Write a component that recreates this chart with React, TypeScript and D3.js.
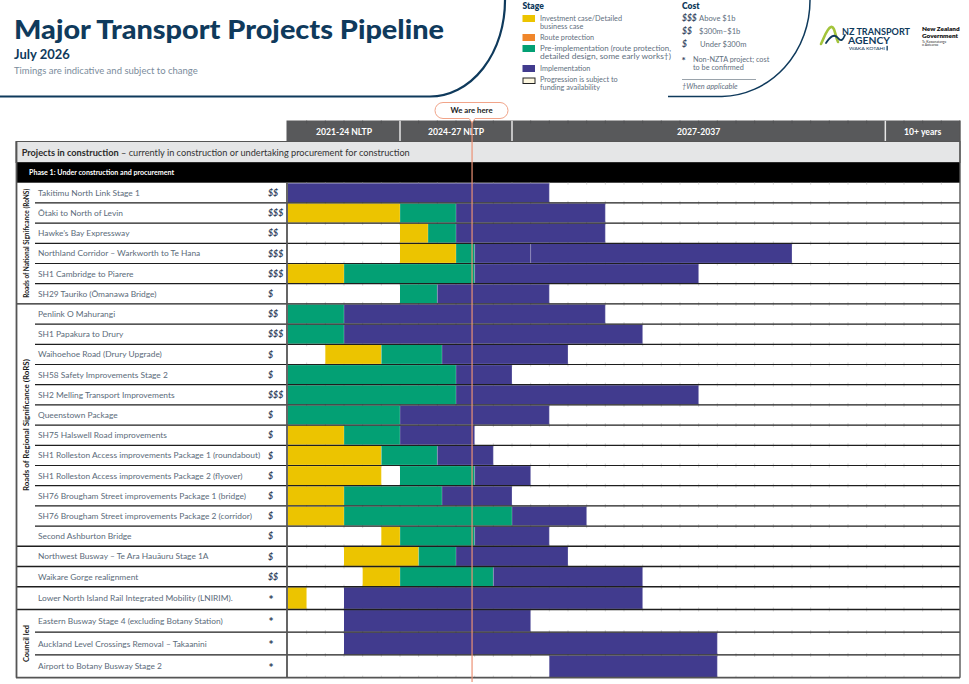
import React from 'react';
import * as d3 from 'd3';

// ---- Stage legend ----
const stageKeys = ['investment', 'route', 'preimpl', 'impl'];
const stageColors: Record<string, string> = {
  investment: '#ecc400',
  route: '#f0862a',
  preimpl: '#03a074',
  impl: '#413b8e',
};
const stageLegendLines = [
  ['Investment case/Detailed', 'business case'],
  ['Route protection'],
  ['Pre-implementation (route protection,', 'detailed design, some early works\u2020)'],
  ['Implementation'],
];
const fundingLegendLines = ['Progression is subject to', 'funding availability'];

// ---- Cost legend ----
const costSymbols = ['$$$', '$$', '$'];
const costLabels = ['Above $1b', '$300m\u2013$1b', 'Under $300m'];

// ---- Timeline ----
const periodLabels = ['2021-24 NLTP', '2024-27 NLTP', '2027-2037', '10+ years'];
const periodBounds = [2021.5, 2024.5, 2027.5, 2037.5, 2039.5];
const NOW = 2026.43;

// ---- Project groups ----
const groupLabels = ['Roads of National Significance (RoNS)', 'Roads of Regional Significance (RoRS)', '', '', '', 'Council led'];
const groupSizes = [6, 12, 1, 1, 1, 3];

const projectNames = [
  'Takitimu North Link Stage 1',
  '\u014Ctaki to North of Levin',
  "Hawke\u2019s Bay Expressway",
  'Northland Corridor \u2013 Warkworth to Te Hana',
  'SH1 Cambridge to Piarere',
  'SH29 Tauriko (\u014Cmanawa Bridge)',
  'Penlink O Mahurangi',
  'SH1 Papakura to Drury',
  'Waihoehoe Road (Drury Upgrade)',
  'SH58 Safety Improvements Stage 2',
  'SH2 Melling Transport Improvements',
  'Queenstown Package',
  'SH75 Halswell Road improvements',
  'SH1 Rolleston Access improvements Package 1 (roundabout)',
  'SH1 Rolleston Access improvements Package 2 (flyover)',
  'SH76 Brougham Street improvements Package 1 (bridge)',
  'SH76 Brougham Street improvements Package 2 (corridor)',
  'Second Ashburton Bridge',
  'Northwest Busway \u2013 Te Ara Hau\u0101uru Stage 1A',
  'Waikare Gorge realignment',
  'Lower North Island Rail Integrated Mobility (LNIRIM).',
  'Eastern Busway Stage 4 (excluding Botany Station)',
  'Auckland Level Crossings Removal \u2013 Takaanini',
  'Airport to Botany Busway Stage 2',
];

const projectCosts = [
  '$$', '$$$', '$$', '$$$', '$$$', '$',
  '$$', '$$$', '$', '$', '$$$', '$', '$', '$', '$', '$', '$', '$',
  '$', '$$', '*', '*', '*', '*',
];

// [stage, start year, end year]
const projectPhases: [string, number, number][][] = [
  [['impl', 2021.5, 2028.5]],
  [['investment', 2021.5, 2024.5], ['preimpl', 2024.5, 2026], ['impl', 2026, 2030]],
  [['investment', 2024.5, 2025.25], ['preimpl', 2025.25, 2026], ['impl', 2026, 2030]],
  [['investment', 2024.5, 2026], ['preimpl', 2026, 2026.5], ['impl', 2026.5, 2028], ['impl', 2028, 2035]],
  [['investment', 2021.5, 2023], ['preimpl', 2023, 2026.5], ['impl', 2026.5, 2032.5]],
  [['preimpl', 2024.5, 2025.5], ['impl', 2025.5, 2028.5]],
  [['preimpl', 2021.5, 2023], ['impl', 2023, 2030]],
  [['preimpl', 2021.5, 2023], ['impl', 2023, 2031]],
  [['investment', 2022.5, 2024], ['preimpl', 2024, 2025.625], ['impl', 2025.625, 2029]],
  [['preimpl', 2021.5, 2026], ['impl', 2026, 2027.5]],
  [['preimpl', 2021.5, 2026], ['impl', 2026, 2032.5]],
  [['preimpl', 2021.5, 2024.5], ['impl', 2024.5, 2028.5]],
  [['investment', 2021.5, 2023], ['preimpl', 2023, 2024.5], ['impl', 2024.5, 2026.5]],
  [['investment', 2021.5, 2024], ['preimpl', 2024, 2025.5], ['impl', 2025.5, 2027]],
  [['investment', 2021.5, 2024], ['preimpl', 2024.5, 2026.5], ['impl', 2026.5, 2028]],
  [['investment', 2021.5, 2023], ['preimpl', 2023, 2025.625], ['impl', 2025.625, 2027.5]],
  [['investment', 2021.5, 2023], ['preimpl', 2023, 2027.5], ['impl', 2027.5, 2029.5]],
  [['investment', 2024, 2024.5], ['preimpl', 2024.5, 2026.5], ['impl', 2026.5, 2028.5]],
  [['investment', 2023, 2025], ['preimpl', 2025, 2026], ['impl', 2026, 2029]],
  [['investment', 2023.5, 2024.5], ['preimpl', 2024.5, 2027], ['impl', 2027, 2031]],
  [['investment', 2021.5, 2022], ['impl', 2023, 2031]],
  [['impl', 2023, 2028]],
  [['impl', 2023, 2033]],
  [['impl', 2028.5, 2033]],
];

const NAVY = '#0f3a5c';
const FONT = 'Lato, "Noto Sans", sans-serif';

export default function App() {
  const W = 969;
  const H = 684;
  const left = 16;
  const nameX = 38;
  const costX = 268;
  const barX0 = 288;
  const right = 960;
  const headerTop = 120.5;
  const headerBottom = 141.5;
  const sectionBottom = 162.5;
  const tableTop = 182.7;

  const x = d3.scaleLinear().domain([periodBounds[0], periodBounds[periodBounds.length - 1]]).range([barX0, right]);
  const ticks = d3.range(periodBounds[0] + 0.5, periodBounds[periodBounds.length - 1], 0.5);

  // row geometry: the last four rows are drawn slightly taller
  const rowHeights = projectNames.map((_, i) => (i < 20 ? 20.2 : 22.75));
  const rowTops: number[] = [];
  let acc = tableTop;
  rowHeights.forEach((h) => {
    rowTops.push(acc);
    acc += h;
  });
  const tableBottom = acc;

  const groupStarts: number[] = [];
  let gi = 0;
  groupSizes.forEach((n) => {
    groupStarts.push(gi);
    gi += n;
  });

  const nowX = x(NOW);

  return (
    <svg width={W} height={H} style={{ position: 'absolute', left: 0, top: 0, fontFamily: FONT }}>
      <rect width={W} height={H} fill="#fff" />

      {/* title block */}
      <text x={14} y={39} fontSize={27} fontWeight={900} fill={NAVY} textLength={430} lengthAdjust="spacingAndGlyphs">
        Major Transport Projects Pipeline
      </text>
      <text x={14} y={58.5} fontSize={13} fontWeight={700} fill={NAVY}>
        July 2026
      </text>
      <text x={14} y={73.5} fontSize={9.5} fill="#7b8c9c">
        Timings are indicative and subject to change
      </text>
      <path d="M0,96.5 H430 A75 96 0 0 0 505 0" fill="none" stroke={NAVY} strokeWidth={2.2} />
      <path d="M668,96.5 H722 A90 96 0 0 0 810 0" fill="none" stroke={NAVY} strokeWidth={1.5} />

      {/* stage legend */}
      <text x={522.5} y={9} fontSize={8.5} fontWeight={800} fill={NAVY}>Stage</text>
      {stageKeys.map((k, i) => {
        const swY = [15, 34, 45, 65][i];
        return (
          <g key={k}>
            <rect x={522.5} y={swY} width={12.5} height={7} fill={stageColors[k]} />
            {stageLegendLines[i].map((ln, j) => (
              <text key={j} x={540} y={swY + 6 + j * 7.8} fontSize={7.3} fill="#5f7080" textLength={ln.length > 30 ? 131 : undefined} lengthAdjust="spacingAndGlyphs">
                {ln}
              </text>
            ))}
          </g>
        );
      })}
      <rect x={523} y={78} width={12} height={5.5} fill="#fdf7df" stroke="#222" strokeWidth={1} />
      {fundingLegendLines.map((ln, j) => (
        <text key={ln} x={540} y={82.4 + j * 7.8} fontSize={7.3} fill="#5f7080">
          {ln}
        </text>
      ))}

      {/* cost legend */}
      <text x={682} y={9} fontSize={8.5} fontWeight={800} fill={NAVY}>Cost</text>
      {costSymbols.map((s, i) => (
        <g key={s}>
          <text x={682} y={21 + i * 13} fontSize={8.5} fontWeight={700} fontStyle="italic" fill="#3b4d66">
            {s}
          </text>
          <text x={i === 2 ? 700 : 699} y={21 + i * 13} fontSize={7.6} fill="#5f7080">
            {costLabels[i]}
          </text>
        </g>
      ))}
      <text x={681.5} y={64} fontSize={10} fontWeight={900} fill="#3b4d66">*</text>
      <text x={693} y={62} fontSize={7.3} fill="#5f7080">Non-NZTA project; cost</text>
      <text x={693} y={70} fontSize={7.3} fill="#5f7080">to be confirmed</text>
      <line x1={682} x2={756} y1={79.5} y2={79.5} stroke="#9aa3ab" strokeWidth={1} />
      <text x={682} y={89} fontSize={7.4} fontStyle="italic" fill="#5f7080">{'\u2020When applicable'}</text>

      {/* agency marks */}
      <g>
        <path d="M821,44 C824,38 827,28 831,27 C835,26 835,36 838,42" fill="none" stroke="#a3c43b" strokeWidth={2.6} strokeLinecap="round" />
        <path d="M826,43 C830,37 834,33 838,38 C841,42 843,40 845,35" fill="none" stroke={NAVY} strokeWidth={1.8} strokeLinecap="round" />
        <text x={842} y={34.5} fontSize={8.6} fontWeight={700} fill={NAVY} textLength={68} lengthAdjust="spacingAndGlyphs">NZ TRANSPORT</text>
        <text x={848} y={44} fontSize={8.6} fontWeight={700} fill={NAVY} textLength={42} lengthAdjust="spacingAndGlyphs">AGENCY</text>
        <text x={849} y={50} fontSize={4.2} fill={NAVY} textLength={36} lengthAdjust="spacingAndGlyphs">WAKA KOTAHI</text>
        <rect x={886.5} y={45.8} width={1.3} height={4.7} fill={NAVY} />
        <text x={922} y={31} fontSize={6.4} fontWeight={800} fill="#111">New Zealand</text>
        <text x={922} y={38} fontSize={6.4} fontWeight={800} fill="#111">Government</text>
        <text x={922} y={42.5} fontSize={3.4} fill="#333">{'Te K\u0101wanatanga'}</text>
        <text x={922} y={46.3} fontSize={3.4} fill="#333">o Aotearoa</text>
      </g>

      {/* period header */}
      <rect x={barX0 - 1.5} y={headerTop} width={right - barX0 + 1.5} height={headerBottom - headerTop} fill="#58595b" />
      {ticks.map((t) => (
        <line key={'ht' + t} x1={x(t)} x2={x(t)} y1={headerTop} y2={headerTop + 3} stroke="#4e4f51" strokeWidth={0.8} />
      ))}
      {periodLabels.map((lab, i) => {
        const a = x(periodBounds[i]);
        const b = x(periodBounds[i + 1]);
        return (
          <g key={lab}>
            {i > 0 && <line x1={a} x2={a} y1={headerTop} y2={headerBottom} stroke="#e6e6e6" strokeWidth={1.5} />}
            <text x={(a + b) / 2} y={134.5} textAnchor="middle" fontSize={8.6} fontWeight={700} fill="#fff">
              {lab}
            </text>
          </g>
        );
      })}

      {/* section band */}
      <rect x={left} y={headerBottom} width={right - left} height={sectionBottom - headerBottom} fill="#e5e6e7" stroke="#555" strokeWidth={1} />
      <text x={21.7} y={155.5} fontSize={9.2} fill="#333">
        <tspan fontWeight={700} fill="#2a2a2a">Projects in construction</tspan>
        <tspan>{' \u2013 currently in construction or undertaking procurement for construction'}</tspan>
      </text>
      <rect x={left} y={sectionBottom} width={right - left} height={tableTop - sectionBottom} fill="#000" />
      <text x={29} y={175.3} fontSize={7.1} fontWeight={700} fill="#fff">
        Phase 1: Under construction and procurement
      </text>

      {/* gantt rows */}
      {projectNames.map((name, i) => {
        const y0 = rowTops[i];
        const h = rowHeights[i];
        const cy = y0 + h / 2;
        const isStar = projectCosts[i] === '*';
        return (
          <g key={name}>
            {ticks.map((t) => (
              <g key={t}>
                <line x1={x(t)} x2={x(t)} y1={y0} y2={y0 + 2} stroke="#c4c4c4" strokeWidth={0.7} />
                <line x1={x(t)} x2={x(t)} y1={y0 + h - 2} y2={y0 + h} stroke="#c4c4c4" strokeWidth={0.7} />
              </g>
            ))}
            {projectPhases[i].map(([stage, s, e], j) => (
              <rect key={j} x={x(s)} y={y0 + 0.6} width={x(e) - x(s)} height={h - 1.2} fill={stageColors[stage]} />
            ))}
            {projectPhases[i].map(([, s, e], j) => (
              <line key={'b' + j} x1={x(e)} x2={x(e)} y1={y0 + 0.6} y2={y0 + h - 0.6} stroke="#fff" strokeOpacity={0.3} strokeWidth={0.8} />
            ))}
            <text x={nameX} y={cy + 3} fontSize={8.4} fill="#5b6b7a">
              {name}
            </text>
            <text
              x={isStar ? costX + 0.5 : costX}
              y={isStar ? cy + 5.5 : cy + 3.2}
              fontSize={isStar ? 12 : 8.8}
              fontWeight={isStar ? 900 : 700}
              fontStyle={isStar ? 'normal' : 'italic'}
              fill="#34465f"
            >
              {projectCosts[i]}
            </text>
          </g>
        );
      })}

      {/* row separators */}
      {rowTops.slice(1).map((yy, k) => {
        const i = k + 1;
        const isGroupStart = groupStarts.includes(i);
        return (
          <line key={'rs' + i} x1={isGroupStart ? left : 35} x2={right} y1={yy} y2={yy} stroke="#1e1e1e" strokeWidth={isGroupStart ? 1.4 : 1.2} />
        );
      })}

      {/* group labels */}
      {groupLabels.map((lab, g) => {
        if (!lab) return null;
        const a = rowTops[groupStarts[g]];
        const last = groupStarts[g] + groupSizes[g] - 1;
        const b = rowTops[last] + rowHeights[last];
        const cy = (a + b) / 2;
        const len = g === 0 ? 109 : g === 1 ? 132 : 37;
        return (
          <text
            key={lab}
            transform={`translate(28.6,${cy}) rotate(-90)`}
            textAnchor="middle"
            fontSize={7.6}
            fontWeight={700}
            fill="#1a1a1a"
            textLength={len}
            lengthAdjust="spacingAndGlyphs"
          >
            {lab}
          </text>
        );
      })}

      {/* table frame */}
      <line x1={left + 0.5} x2={left + 0.5} y1={headerBottom} y2={tableBottom} stroke="#555" strokeWidth={1.8} />
      <line x1={287} x2={287} y1={tableTop} y2={tableBottom} stroke="#555" strokeWidth={1.8} />
      <line x1={right} x2={right} y1={headerTop} y2={tableBottom} stroke="#555" strokeWidth={1.4} />
      <line x1={left} x2={right} y1={tableBottom} y2={tableBottom} stroke="#555" strokeWidth={1.8} />

      {/* current date marker */}
      <line x1={nowX} x2={nowX} y1={118} y2={682} stroke="#ec9276" strokeWidth={1.2} />
      <g>
        <path
          d={`M443,102.5 H500 A8 8 0 0 1 500,118.5 H${nowX + 3} L${nowX},122.5 L${nowX - 3},118.5 H443 A8 8 0 0 1 443,102.5 Z`}
          fill="#fff"
          stroke="#f1a489"
          strokeWidth={1}
        />
        <text x={471.5} y={113.4} textAnchor="middle" fontSize={7.8} fontWeight={700} fill="#222">
          We are here
        </text>
      </g>
    </svg>
  );
}
